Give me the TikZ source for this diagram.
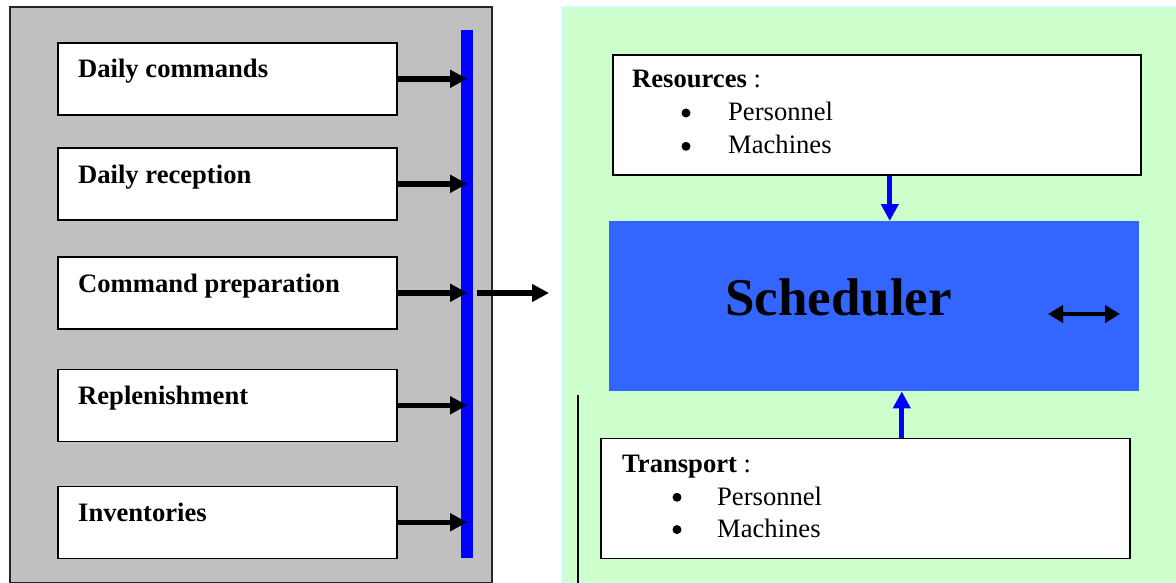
\documentclass[tikz,border=0pt]{standalone}
\usepackage{fontspec}
\setmainfont{Liberation Serif}
\usetikzlibrary{arrows.meta}
\definecolor{panelgray}{HTML}{C0C0C0}
\definecolor{panelgreen}{HTML}{CCFFCC}
\definecolor{panelcyan}{HTML}{CCFFFF}
\definecolor{schedblue}{HTML}{3366FF}
\tikzset{
  txt/.style={inner sep=0pt, anchor=base west, font=\fontsize{26.6}{33}\selectfont},
  boldtxt/.style={txt, font=\fontsize{26.6}{33}\selectfont\bfseries},
  bulletdot/.style={circle, fill=black, inner sep=0pt, minimum size=9pt},
  whitebox/.style={draw=black, line width=1.6pt, fill=white, anchor=north west, inner sep=0pt},
  taskbox/.style={whitebox, minimum width=339pt, minimum height=72pt},
  blkarrow/.style={draw=black, line width=5.5pt, -{Triangle[length=17pt,width=17pt]}},
  bluearrow/.style={draw=blue, line width=5pt, -{Triangle[length=17pt,width=17pt]}},
  dblarrow/.style={draw=black, line width=4pt, {Triangle[length=15pt,width=17pt]}-{Triangle[length=15pt,width=17pt]}}
}
\begin{document}
\begin{tikzpicture}[x=1pt,y=-1pt]
\useasboundingbox (0,0) rectangle (1176,583);

% left panel: the daily activities
\node[draw=black!85, line width=1.6pt, fill=panelgray, anchor=north west, inner sep=0pt,
      minimum width=482pt, minimum height=576pt] (leftpanel) at (9,6) {};

% right panel: scheduling
\node[draw=panelcyan, line width=2pt, fill=panelgreen, anchor=north west, inner sep=0pt,
      minimum width=625pt, minimum height=576pt] (rightpanel) at (561,6) {};

% activity boxes
\node[taskbox] (b1) at (57,42) {};
\node[taskbox] (b2) at (57,147) {};
\node[taskbox] (b3) at (57,256) {};
\node[taskbox] (b4) at (57,368.5) {};
\node[taskbox] (b5) at (57,485.5) {};
\node[boldtxt] (t1) at (78,78) {Daily commands};
\node[boldtxt] (t2) at (78,183) {Daily reception};
\node[boldtxt] (t3) at (78,292) {Command preparation};
\node[boldtxt] (t4) at (78,404.5) {Replenishment};
\node[boldtxt] (t5) at (78,521.5) {Inventories};

% collecting bar
\node[fill=blue, anchor=north west, inner sep=0pt, minimum width=12pt, minimum height=528pt] (bar) at (461,30) {};

\draw[blkarrow] (b1.east) -- (b1.east -| bar.center);
\draw[blkarrow] (b2.east) -- (b2.east -| bar.center);
\draw[blkarrow] (b3.east) -- (b3.east -| bar.center);
\draw[blkarrow] (b4.east) -- (b4.east -| bar.center);
\draw[blkarrow] (b5.east) -- (b5.east -| bar.center);

\coordinate (outend) at (549,293);
\draw[blkarrow] ([xshift=3.5pt]bar.east |- outend) -- (outend);

% resources
\node[whitebox, minimum width=528pt, minimum height=120pt] (res) at (612,54) {};
\node[txt] (restitle) at (632,88) {\textbf{Resources} :};
\node[bulletdot] (resb1) at (686,113) {};
\node[txt] (resi1) at (728,120.7) {Personnel};
\node[bulletdot] (resb2) at (686,146.3) {};
\node[txt] (resi2) at (728,154) {Machines};

% scheduler
\node[fill=schedblue, anchor=north west, inner sep=0pt, minimum width=530pt, minimum height=170pt] (sched) at (609,221) {};
\node[inner sep=0pt, anchor=base west, font=\fontsize{53}{60}\selectfont\bfseries] (schedtxt) at (725,315) {Scheduler};
\coordinate (dblL) at (1048,314);
\coordinate (dblR) at (1120,314);
\draw[dblarrow] (dblL) -- (dblR);

% transport
\node[whitebox, minimum width=529pt, minimum height=120pt] (trans) at (600,437.5) {};
\node[txt] (transtitle) at (622,472.7) {\textbf{Transport} :};
\node[bulletdot] (transb1) at (677,497.3) {};
\node[txt] (transi1) at (717,505) {Personnel};
\node[bulletdot] (transb2) at (677,529.6) {};
\node[txt] (transi2) at (717,537.3) {Machines};

% resource flows into the scheduler
\draw[bluearrow] ([xshift=13pt]res.south) -- ([xshift=13pt]res.south |- sched.north);
\draw[bluearrow] ([xshift=36.5pt]trans.north) -- ([xshift=36.5pt]trans.north |- sched.south);

% separator line
\coordinate (sepTop) at (578,395);
\coordinate (sepBot) at (578,583);
\draw[black, line width=1.5pt] (sepTop) -- (sepBot);
\end{tikzpicture}
\end{document}
